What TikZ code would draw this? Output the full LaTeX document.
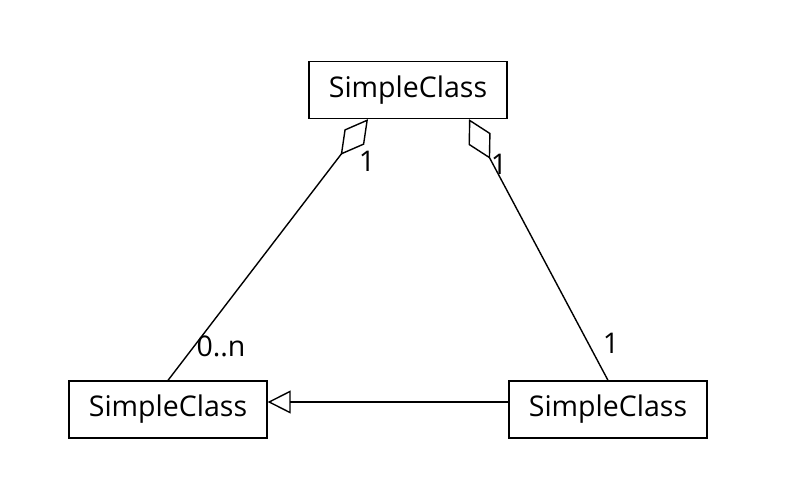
\documentclass[tikz,border=0pt]{standalone}
\usepackage{fontspec}
\setmainfont{Open Sans}
\usetikzlibrary{arrows.meta,positioning}

\begin{document}
\begin{tikzpicture}[
  x=1pt, y=-1pt,
  font=\fontsize{28.5}{32}\selectfont,
  classbox/.style={draw, line width=1.3pt, minimum width=198pt,
    minimum height=57pt, inner sep=0pt},
  aggr/.style={line width=1.4pt, -{Diamond[open,length=45pt,width=25pt]}},
  inherit/.style={line width=1.4pt, -{Triangle[open,length=23pt,width=23pt]}},
  mult/.style={inner sep=0pt}
]
  \useasboundingbox (0,0) rectangle (808,486);

  % Classes
  \node[classbox] (top) at (408,90) {SimpleClass};
  \node[classbox] (left) at (168,409.5) {SimpleClass};
  \node[classbox] (right) at (608,409.5) {SimpleClass};

  % Aggregations
  \draw[aggr] (left.north) -- ([xshift=-40pt]top.south);
  \draw[aggr] (right.north) -- ([xshift=61pt]top.south);

  % Inheritance
  \draw[inherit] ([yshift=7.5pt]right.west) -- ([yshift=7.5pt]left.east);

  % Multiplicities
  \node[mult] (mtopl) at (367,161) {1};
  \node[mult] (mtopr) at (499,164) {1};
  \node[mult] (mleft) at (221,346) {0..n};
  \node[mult] (mright) at (611,343) {1};
\end{tikzpicture}
\end{document}
